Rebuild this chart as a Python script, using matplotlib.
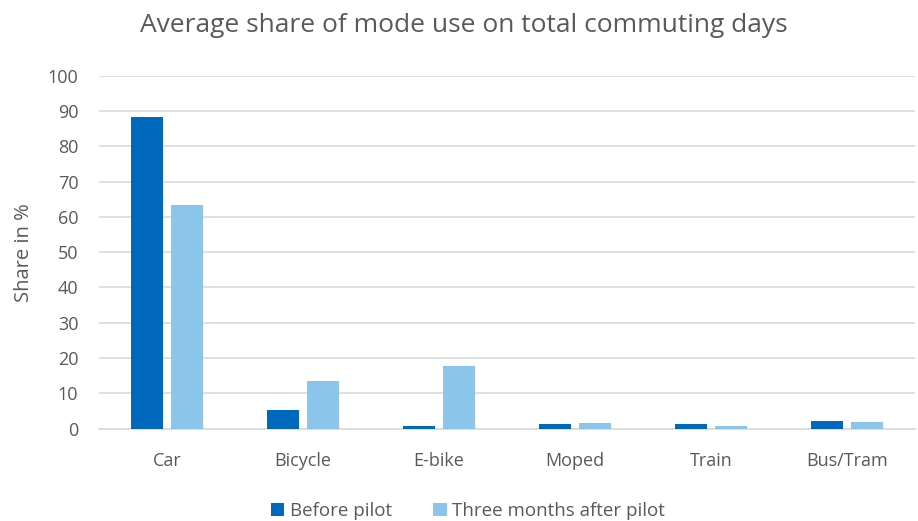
import matplotlib.pyplot as plt
import numpy as np

plt.rcParams['font.family'] = ['Open Sans', 'DejaVu Sans']

modos = ['Car', 'Bicycle', 'E-bike', 'Moped', 'Train', 'Bus/Tram']
antes = [88.4, 5.2, 0.65, 1.3, 1.3, 2.2]
despues = [63.3, 13.4, 17.9, 1.7, 0.85, 1.8]
series = ['Before pilot', 'Three months after pilot']

gris = '#595959'
x = np.arange(len(modos))
ancho = 0.235

fig = plt.figure(figsize=(9.18, 5.21), dpi=100)
ax = fig.add_axes([0.108, 0.177, 0.889, 0.678])

ax.bar(x - 0.147, antes, width=ancho, color='#0068BD', label=series[0], zorder=3)
ax.bar(x + 0.147, despues, width=ancho, color='#8CC5EB', label=series[1], zorder=3)

ax.set_xlim(-0.5, len(modos) - 0.5)
ax.set_ylim(0, 100)
ax.set_yticks(range(0, 101, 10))
ax.set_xticks(x, modos)
ax.grid(axis='y', color='#D9D9D9', linewidth=1.2, zorder=0)
for s in ['top', 'right', 'left']:
    ax.spines[s].set_visible(False)
ax.spines['bottom'].set_color('#D9D9D9')
ax.spines['bottom'].set_linewidth(1.2)
ax.tick_params(axis='both', length=0, colors=gris, labelsize=13)
ax.tick_params(axis='x', pad=17)
ax.tick_params(axis='y', pad=15)
ax.set_ylabel('Share in %', color=gris, fontsize=14.5, labelpad=10)

fig.suptitle('Average share of mode use on total commuting days', color=gris,
             fontsize=19, x=0.505, y=0.975)

fig.legend(loc='lower center', ncol=2, frameon=False, fontsize=13.5,
           labelcolor=gris, handlelength=0.7, handleheight=0.7,
           handletextpad=0.3, columnspacing=2.2, bbox_to_anchor=(0.51, -0.03))

fig.savefig('out.png', dpi=100)
